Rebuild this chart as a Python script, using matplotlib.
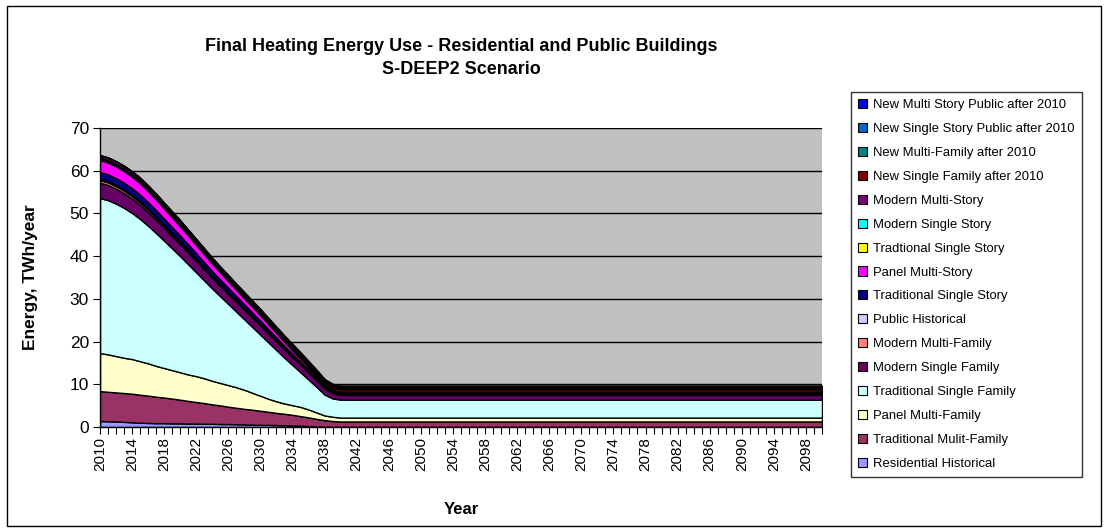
import matplotlib
matplotlib.use("Agg")
import matplotlib.pyplot as plt
from matplotlib.patches import Rectangle, Patch
import numpy as np

plt.rcParams['font.family'] = ['Liberation Sans', 'DejaVu Sans']

# Years with yearly values; the 2040 level holds flat through 2100
YEAR_START, YEAR_TRANSITION_END, YEAR_END = 2010, 2040, 2100

# Stacked building categories, bottom to top (values in TWh/year, 2010..2040)
residential_historical = [1.40, 1.35, 1.30, 1.20, 1.10, 1.00, 0.95, 0.90, 0.90, 0.85, 0.85,
                          0.80, 0.80, 0.75, 0.75, 0.70, 0.70, 0.65, 0.60, 0.55, 0.50,
                          0.50, 0.45, 0.40, 0.35, 0.30, 0.20, 0.10, 0.05, 0.00, 0.00]
traditional_multi_family = [7.00, 6.90, 6.80, 6.75, 6.70, 6.55, 6.40, 6.20, 6.00, 5.80, 5.55,
                            5.30, 5.05, 4.85, 4.55, 4.35, 4.05, 3.85, 3.65, 3.50, 3.30,
                            3.05, 2.85, 2.70, 2.50, 2.25, 2.05, 1.80, 1.55, 1.40, 1.30]
panel_multi_family = [8.90, 8.75, 8.50, 8.25, 8.10, 7.85, 7.55, 7.20, 6.90, 6.65, 6.40,
                      6.20, 6.05, 5.80, 5.50, 5.25, 5.05, 4.80, 4.45, 3.95, 3.50,
                      3.05, 2.70, 2.40, 2.25, 2.15, 1.85, 1.50, 1.10, 1.00, 0.90]
traditional_single_family = [36.3, 36.1, 35.7, 35.1, 34.2, 33.3, 32.2, 31.1, 29.8, 28.5, 27.2,
                             25.8, 24.3, 22.9, 21.6, 20.3, 19.0, 17.7, 16.5, 15.4, 14.3,
                             13.2, 12.0, 10.7, 9.4, 8.1, 7.0, 6.0, 4.9, 4.3, 4.2]
modern_single_family = [3.60, 3.56, 3.50, 3.44, 3.37, 3.30, 3.20, 3.10, 3.00, 2.90, 2.80,
                        2.72, 2.64, 2.56, 2.48, 2.40, 2.34, 2.28, 2.22, 2.16, 2.10,
                        2.04, 1.98, 1.92, 1.86, 1.80, 1.68, 1.55, 1.40, 1.20, 1.10]
modern_multi_family = [0.60, 0.60, 0.59, 0.59, 0.58, 0.58, 0.56, 0.54, 0.52, 0.50, 0.48,
                       0.46, 0.43, 0.41, 0.38, 0.36, 0.34, 0.32, 0.31, 0.29, 0.28,
                       0.25, 0.23, 0.20, 0.18, 0.16, 0.13, 0.11, 0.08, 0.08, 0.07]
public_historical = [0.30, 0.30, 0.30, 0.29, 0.29, 0.29, 0.28, 0.27, 0.26, 0.25, 0.24,
                     0.23, 0.22, 0.20, 0.19, 0.18, 0.17, 0.16, 0.15, 0.15, 0.14,
                     0.13, 0.11, 0.10, 0.09, 0.08, 0.07, 0.05, 0.04, 0.04, 0.04]
traditional_single_story_a = [1.60, 1.59, 1.58, 1.57, 1.55, 1.54, 1.49, 1.44, 1.38, 1.33, 1.28,
                              1.22, 1.15, 1.09, 1.02, 0.96, 0.91, 0.86, 0.82, 0.78, 0.74,
                              0.67, 0.61, 0.54, 0.48, 0.42, 0.35, 0.29, 0.22, 0.20, 0.19]
panel_multi_story = [2.80, 2.79, 2.77, 2.74, 2.72, 2.69, 2.60, 2.52, 2.41, 2.32, 2.24,
                     2.13, 2.02, 1.90, 1.79, 1.68, 1.60, 1.51, 1.43, 1.36, 1.29,
                     1.18, 1.06, 0.95, 0.84, 0.73, 0.62, 0.50, 0.39, 0.35, 0.33]
traditional_single_story_b = [0.20, 0.20, 0.20, 0.20, 0.19, 0.19, 0.19, 0.18, 0.17, 0.17, 0.16,
                              0.15, 0.14, 0.14, 0.13, 0.12, 0.11, 0.11, 0.10, 0.10, 0.09,
                              0.08, 0.08, 0.07, 0.06, 0.05, 0.04, 0.04, 0.03, 0.03, 0.02]
modern_single_story = [0.30, 0.30, 0.29, 0.29, 0.29, 0.28, 0.28, 0.27, 0.26, 0.25, 0.24,
                       0.23, 0.21, 0.20, 0.19, 0.18, 0.17, 0.16, 0.15, 0.14, 0.14,
                       0.12, 0.11, 0.10, 0.09, 0.08, 0.07, 0.06, 0.04, 0.04, 0.04]
modern_multi_story = [0.60, 0.59, 0.59, 0.58, 0.58, 0.57, 0.56, 0.54, 0.52, 0.50, 0.48,
                      0.45, 0.43, 0.41, 0.38, 0.36, 0.34, 0.32, 0.31, 0.29, 0.27,
                      0.25, 0.23, 0.21, 0.18, 0.16, 0.13, 0.11, 0.09, 0.08, 0.07]
new_single_family = [0.00, 0.02, 0.04, 0.06, 0.08, 0.10, 0.12, 0.14, 0.16, 0.18, 0.20,
                     0.22, 0.24, 0.26, 0.28, 0.30, 0.32, 0.34, 0.36, 0.38, 0.40,
                     0.42, 0.44, 0.46, 0.48, 0.50, 0.52, 0.54, 0.56, 0.58, 0.60]
new_multi_family = [0.00, 0.01, 0.02, 0.035, 0.05, 0.06, 0.07, 0.08, 0.09, 0.105, 0.12,
                    0.13, 0.14, 0.15, 0.165, 0.18, 0.19, 0.20, 0.21, 0.225, 0.24,
                    0.25, 0.26, 0.27, 0.285, 0.30, 0.31, 0.32, 0.33, 0.34, 0.35]
new_single_story_public = [0.00, 0.01, 0.01, 0.02, 0.03, 0.03, 0.04, 0.05, 0.05, 0.06, 0.07,
                           0.07, 0.08, 0.09, 0.09, 0.10, 0.11, 0.11, 0.12, 0.13, 0.13,
                           0.14, 0.15, 0.15, 0.16, 0.17, 0.17, 0.18, 0.19, 0.19, 0.20]
new_multi_story_public = [0.00, 0.01, 0.02, 0.03, 0.04, 0.05, 0.06, 0.07, 0.08, 0.09, 0.10,
                          0.11, 0.12, 0.13, 0.14, 0.15, 0.16, 0.17, 0.18, 0.19, 0.20,
                          0.21, 0.22, 0.23, 0.24, 0.25, 0.26, 0.27, 0.28, 0.29, 0.30]

series_labels = [
    "Residential Historical",
    "Traditional Mulit-Family",
    "Panel Multi-Family",
    "Traditional Single Family",
    "Modern Single Family",
    "Modern Multi-Family",
    "Public Historical",
    "Traditional Single Story",
    "Panel Multi-Story",
    "Tradtional Single Story",
    "Modern Single Story",
    "Modern Multi-Story",
    "New Single Family after 2010",
    "New Multi-Family after 2010",
    "New Single Story Public after 2010",
    "New Multi Story Public after 2010",
]
series_values = [
    residential_historical, traditional_multi_family, panel_multi_family,
    traditional_single_family, modern_single_family, modern_multi_family,
    public_historical, traditional_single_story_a, panel_multi_story,
    traditional_single_story_b, modern_single_story, modern_multi_story,
    new_single_family, new_multi_family, new_single_story_public, new_multi_story_public,
]
series_colors = [
    "#9999FF", "#993366", "#FFFFCC", "#CCFFFF", "#660066", "#FF8080",
    "#CCCCFF", "#000080", "#FF00FF", "#FFFF00", "#00FFFF", "#800080",
    "#800000", "#008080", "#0066CC", "#0000FF",
]

years = np.arange(YEAR_START, YEAR_END + 1)
n_flat = YEAR_END - YEAR_TRANSITION_END
stack = [list(v) + [v[-1]] * n_flat for v in series_values]

W, H = 1109, 532
fig = plt.figure(figsize=(W / 100, H / 100), dpi=100)
fig.patch.set_facecolor("white")

# outer chart frame
fig.patches.append(Rectangle((7 / W, 6 / H), 1094 / W, 520 / H, transform=fig.transFigure,
                             fill=False, edgecolor="black", linewidth=1.0))

ax = fig.add_axes([100 / W, 1 - 427 / H, 722 / W, 299 / H])
ax.set_facecolor("#C0C0C0")

for yv in range(10, 71, 10):
    ax.axhline(yv, color="black", linewidth=1.0, zorder=1)

ax.stackplot(years, *stack, colors=series_colors, edgecolor="black",
             linewidth=1.0, zorder=2)

ax.set_xlim(YEAR_START, YEAR_END)
ax.set_ylim(0, 70)
ax.set_yticks(range(0, 71, 10))
ax.set_xticks(range(YEAR_START, YEAR_END + 1, 4))
ax.set_xticks(years, minor=True)
ax.tick_params(axis="x", which="both", direction="out", length=5, width=0.8,
               labelrotation=90, labelsize=11, pad=2)
ax.tick_params(axis="y", direction="out", length=5, width=0.8, labelsize=12.5, pad=3)
for side in ("top", "right"):
    ax.spines[side].set_visible(False)
ax.spines["left"].set_linewidth(1.0)
ax.spines["bottom"].set_linewidth(1.0)

fig.text(461 / W, 1 - 58 / H,
         "Final Heating Energy Use - Residential and Public Buildings\nS-DEEP2 Scenario",
         ha="center", va="center", fontsize=13, fontweight="bold", linespacing=1.4)
fig.text(31 / W, 1 - 277 / H, "Energy, TWh/year", rotation=90, ha="center", va="center",
         fontsize=12.5, fontweight="bold")
fig.text(461 / W, 1 - 509 / H, "Year", ha="center", va="center",
         fontsize=12, fontweight="bold")

handles = [Patch(facecolor=c, edgecolor="black", linewidth=0.8)
           for c in series_colors][::-1]
leg = fig.legend(handles, series_labels[::-1], loc="upper left",
                 bbox_to_anchor=(851 / W, 1 - 92 / H), fontsize=9.4,
                 frameon=True, fancybox=False, edgecolor="black",
                 handlelength=0.7, handleheight=0.7, handletextpad=0.45,
                 labelspacing=0.9, borderpad=0.55, borderaxespad=0)
leg.get_frame().set_linewidth(1.0)

fig.savefig("out.png", dpi=100)
